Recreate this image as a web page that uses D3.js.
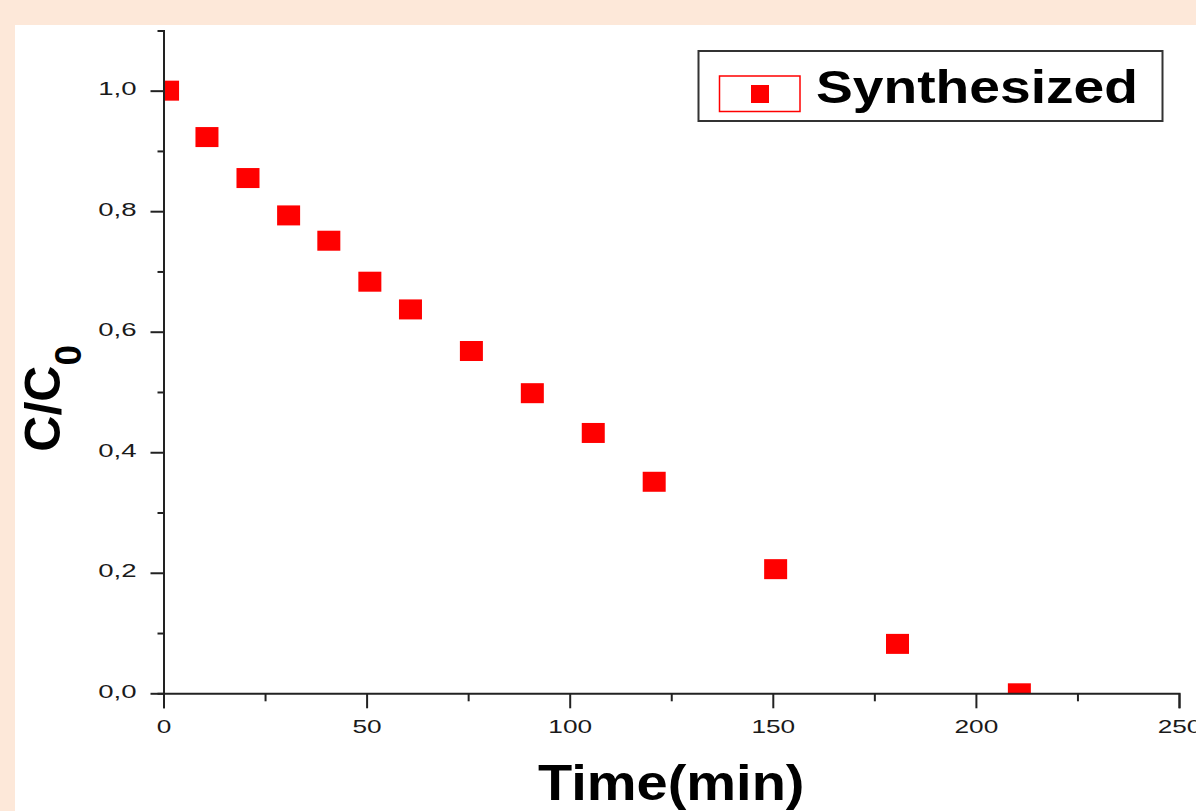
<!DOCTYPE html>
<html>
<head>
<meta charset="utf-8">
<script src="https://cdn.jsdelivr.net/npm/d3@7"></script>
<style>
  html, body { margin: 0; padding: 0; background: #fde8d9; }
  svg { display: block; }
  text { font-family: "Liberation Sans", Arial, sans-serif; }
</style>
</head>
<body>
<svg id="chart" width="1196" height="811"></svg>
<script>
// ---- data ----
const seriesName = "Synthesized";
const times  = [1, 10.7, 20.8, 30.8, 40.7, 50.8, 60.8, 75.8, 90.8, 105.8, 120.8, 150.7, 180.7, 210.7];
const ratios = [1.0, 0.923, 0.855, 0.793, 0.751, 0.683, 0.637, 0.568, 0.498, 0.432, 0.351, 0.206, 0.082, 0.0];
const xTicks = [0, 50, 100, 150, 200, 250];
const xMinorTicks = [25, 75, 125, 175, 225];
const yTicks = [0, 0.2, 0.4, 0.6, 0.8, 1.0];
const yTickLabels = ["0,0", "0,2", "0,4", "0,6", "0,8", "1,0"];
const yMinorTicks = [0.1, 0.3, 0.5, 0.7, 0.9];
const xTitle = "Time(min)";
const yTitleMain = "C/C";
const yTitleSub = "0";

// ---- layout ----
const W = 1196, H = 811;
const plot = { left: 163.5, right: 1179, top: 30.4, bottom: 693.3 };
const axisColor = "#222";
const red = "#ff0000";

const svg = d3.select("#chart");

// white panel
svg.append("rect").attr("x", 15).attr("y", 25).attr("width", W - 15).attr("height", H - 25).attr("fill", "#ffffff");

const x = d3.scaleLinear().domain([0, 250]).range([plot.left, plot.right]);
const y = d3.scaleLinear().domain([0, 1.1]).range([plot.bottom, plot.top]);

// clip for markers
svg.append("defs").append("clipPath").attr("id", "plotclip")
  .append("rect").attr("x", plot.left).attr("y", plot.top - 20)
  .attr("width", plot.right - plot.left).attr("height", plot.bottom - plot.top + 20);

// markers
const mw = 23, mh = 20;
svg.append("g").attr("clip-path", "url(#plotclip)")
  .selectAll("rect").data(times.map((t, i) => ({ t, v: ratios[i] })))
  .join("rect")
  .attr("x", d => x(d.t) - mw / 2)
  .attr("y", d => y(d.v) - mh / 2)
  .attr("width", mw).attr("height", mh)
  .attr("fill", red);

function stretch(sel, k) {
  sel.each(function () {
    const w = this.getComputedTextLength();
    d3.select(this).attr("textLength", w * k).attr("lengthAdjust", "spacingAndGlyphs");
  });
}

function styleAxis(g) {
  g.selectAll("path.domain").attr("stroke", axisColor).attr("stroke-width", 2);
  g.selectAll(".tick line").attr("stroke", axisColor).attr("stroke-width", 2);
  g.selectAll(".tick text").attr("fill", "#1a1a1a")
    .style("font-family", '"Liberation Sans", Arial, sans-serif')
    .style("font-size", "19px");
}

// x minor ticks
const gxm = svg.append("g").attr("transform", `translate(0,${plot.bottom})`)
  .call(d3.axisBottom(x).tickValues(xMinorTicks).tickSize(8).tickSizeOuter(0).tickFormat(""));
gxm.select("path.domain").remove();
styleAxis(gxm);

// y minor ticks
const gym = svg.append("g").attr("transform", `translate(${plot.left},0)`)
  .call(d3.axisLeft(y).tickValues(yMinorTicks).tickSize(6).tickSizeOuter(0).tickFormat(""));
gym.select("path.domain").remove();
styleAxis(gym);

// x axis
const gx = svg.append("g").attr("transform", `translate(0,${plot.bottom})`)
  .call(d3.axisBottom(x).tickValues(xTicks).tickSize(15).tickSizeOuter(15).tickPadding(11)
    .tickFormat(d => String(d)));
styleAxis(gx);
stretch(gx.selectAll(".tick text"), 1.38);

// y axis
const gy = svg.append("g").attr("transform", `translate(${plot.left},0)`)
  .call(d3.axisLeft(y).tickValues(yTicks).tickSize(13).tickSizeOuter(6).tickPadding(14)
    .tickFormat((d, i) => yTickLabels[i]));
styleAxis(gy);
gy.selectAll(".tick text").attr("dy", "0.2em");
stretch(gy.selectAll(".tick text"), 1.45);

// x title
svg.append("text")
  .attr("x", (x(0) + x(250)) / 2).attr("y", 800)
  .attr("text-anchor", "middle")
  .attr("font-weight", "bold").attr("font-size", 50).attr("fill", "#000")
  .text(xTitle)
  .call(s => stretch(s, 1.12));

// y title
const yt = svg.append("text")
  .attr("transform", "translate(60,451.7) rotate(-90)")
  .attr("text-anchor", "start")
  .attr("font-weight", "bold").attr("font-size", 50).attr("fill", "#000");
yt.append("tspan").text(yTitleMain);
yt.append("tspan").attr("dy", 21).attr("font-size", 37).text(yTitleSub);

// legend
const lg = svg.append("g");
lg.append("rect").attr("x", 698.5).attr("y", 51).attr("width", 464).attr("height", 70)
  .attr("fill", "#fff").attr("stroke", "#333").attr("stroke-width", 2);
lg.append("rect").attr("x", 719.5).attr("y", 76).attr("width", 80.5).attr("height", 35.5)
  .attr("fill", "none").attr("stroke", red).attr("stroke-width", 1.5);
lg.append("rect").attr("x", 751).attr("y", 85).attr("width", 18).attr("height", 18).attr("fill", red);
lg.append("text").attr("x", 816).attr("y", 103.3)
  .attr("font-weight", "bold").attr("font-size", 47).attr("fill", "#000")
  .text(seriesName)
  .call(s => s.attr("textLength", 322).attr("lengthAdjust", "spacingAndGlyphs"));
</script>
</body>
</html>
